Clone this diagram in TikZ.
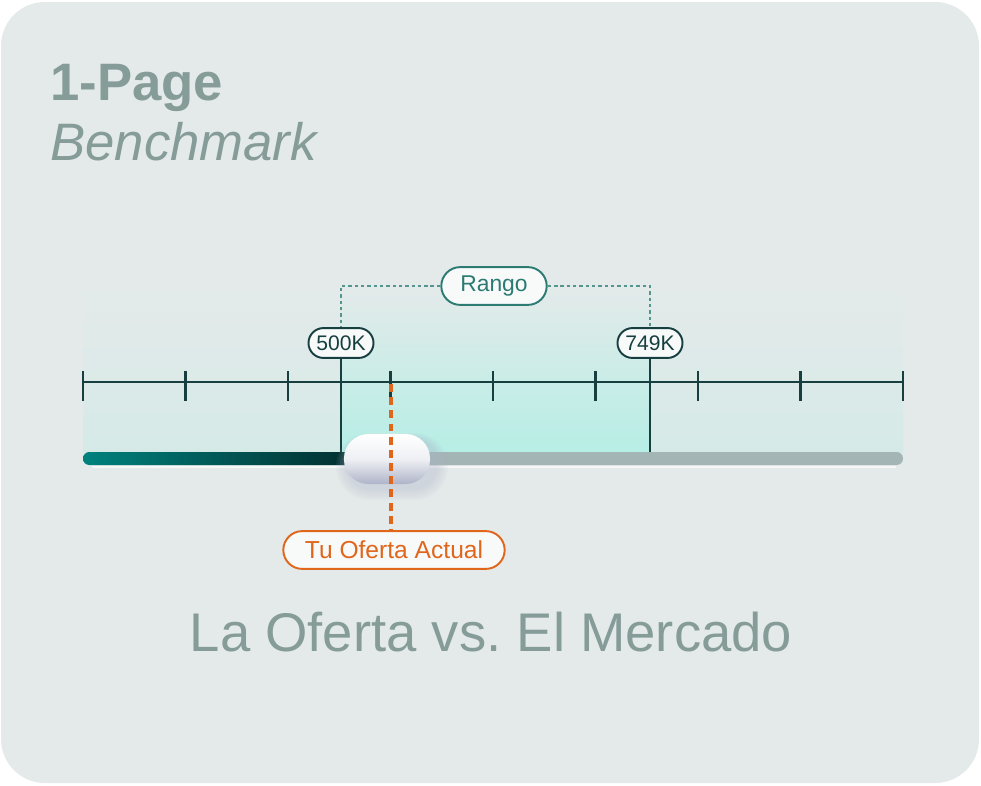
\documentclass[tikz,border=0pt]{standalone}
\usepackage{fontspec}
\setmainfont{Liberation Sans}
\usetikzlibrary{positioning,calc}

\definecolor{bgcard}{HTML}{E4EAEA}
\definecolor{titlegray}{HTML}{869C99}
\definecolor{axisdark}{HTML}{173F3F}
\definecolor{bandlight}{HTML}{D5EAE7}
\definecolor{bandmid}{HTML}{B6EEE5}
\definecolor{rangoteal}{HTML}{2B7B73}
\definecolor{slideteal}{HTML}{00827E}
\definecolor{slidedark}{HTML}{032A2B}
\definecolor{slidegray}{HTML}{A4B5B5}
\definecolor{ofertaorange}{HTML}{E0661C}
\definecolor{knobshade}{HTML}{AEB4C8}
\definecolor{pillfill}{HTML}{F8FAFA}

\tikzset{
  axis/.style={axisdark, line width=1.4pt},
  pill/.style={fill=pillfill, line width=1.1pt, inner sep=0pt},
  valpill/.style={pill, draw=axisdark, text=axisdark, minimum width=37pt, minimum height=17pt,
    rounded corners=8.5pt, font=\fontsize{12}{12}\selectfont},
  rangopill/.style={pill, draw=rangoteal, text=rangoteal, minimum width=60pt, minimum height=21.5pt,
    rounded corners=10.75pt, font=\fontsize{13}{13}\selectfont},
  ofertapill/.style={pill, draw=ofertaorange, text=ofertaorange, minimum width=126pt, minimum height=21.5pt,
    rounded corners=10.75pt, font=\fontsize{14}{14}\selectfont},
  knob/.style={rounded corners=14pt, minimum width=49pt, minimum height=28.5pt,
    top color=white, bottom color=knobshade, middle color=white!80!knobshade},
  ofdash/.style={ofertaorange, line width=2pt, dash pattern=on 4.5pt off 3pt},
  rangodash/.style={rangoteal!80!white, line width=0.7pt, dash pattern=on 2pt off 1.6pt}
}

\begin{document}
\begin{tikzpicture}[x=0.02cm,y=-0.02cm]
\useasboundingbox (0,0) rectangle (981,785);
\fill[white] (0,0) rectangle (981,785);
\fill[bgcard, rounded corners=25pt] (1,2) rectangle (979,783);

\node[anchor=base west, inner sep=0pt, text=titlegray, font=\bfseries\fontsize{30}{30}\selectfont]
  (ttlone) at (50,100) {1-Page};
\node[anchor=base west, inner sep=0pt, text=titlegray, font=\itshape\fontsize{30}{30}\selectfont]
  (ttltwo) at (50,160) {Benchmark};

\shade[top color=bgcard, bottom color=bandlight] (83,285) rectangle (903,452);
\shade[top color=bgcard, bottom color=bandmid] (341,285) rectangle (650,452);

\draw[axis] (83,382) -- (903,382);
\foreach \x in {0,...,8} {
  \draw[axis] ({83+102.5*\x},371) -- ({83+102.5*\x},401);
}

\node[valpill] (k500) at (341,343) {500K};
\node[valpill] (k749) at (650,343) {749K};
\node[rangopill] (rango) at (494,286) {Rango};

\draw[rangodash] (rango.west) -| (k500.north);
\draw[rangodash] (rango.east) -| (k749.north);

\coordinate (b500) at (341,452);
\coordinate (b749) at (650,452);
\draw[axis] (k500.south) -- (b500);
\draw[axis] (k749.south) -- (b749);

\fill[slidegray, rounded corners=3.6pt] (340,452) rectangle (903,465);
\shade[left color=slideteal, right color=slidedark, rounded corners=3.6pt] (83,452) rectangle (365,465);
\draw[white, opacity=.7, line width=.8pt] (92,467) -- (896,467);

\foreach \g in {0,...,5} {
  \fill[knobshade, opacity=.07, rounded corners={14pt+\g*1pt}]
    ({346-\g*2},{438-\g}) rectangle ({438+\g*2},{490+\g*2});
}
\node[knob] (knob) at (387,459) {};

\node[ofertapill] (oferta) at (394,550) {Tu Oferta Actual};
\coordinate (ofpt) at (391,384);
\draw[ofdash] (ofpt) -- (ofpt |- oferta.north);

\node[anchor=base, inner sep=0pt, text=titlegray, font=\fontsize{31}{31}\selectfont]
  (lema) at (491,651) {La Oferta vs.\ El Mercado};
\end{tikzpicture}
\end{document}
